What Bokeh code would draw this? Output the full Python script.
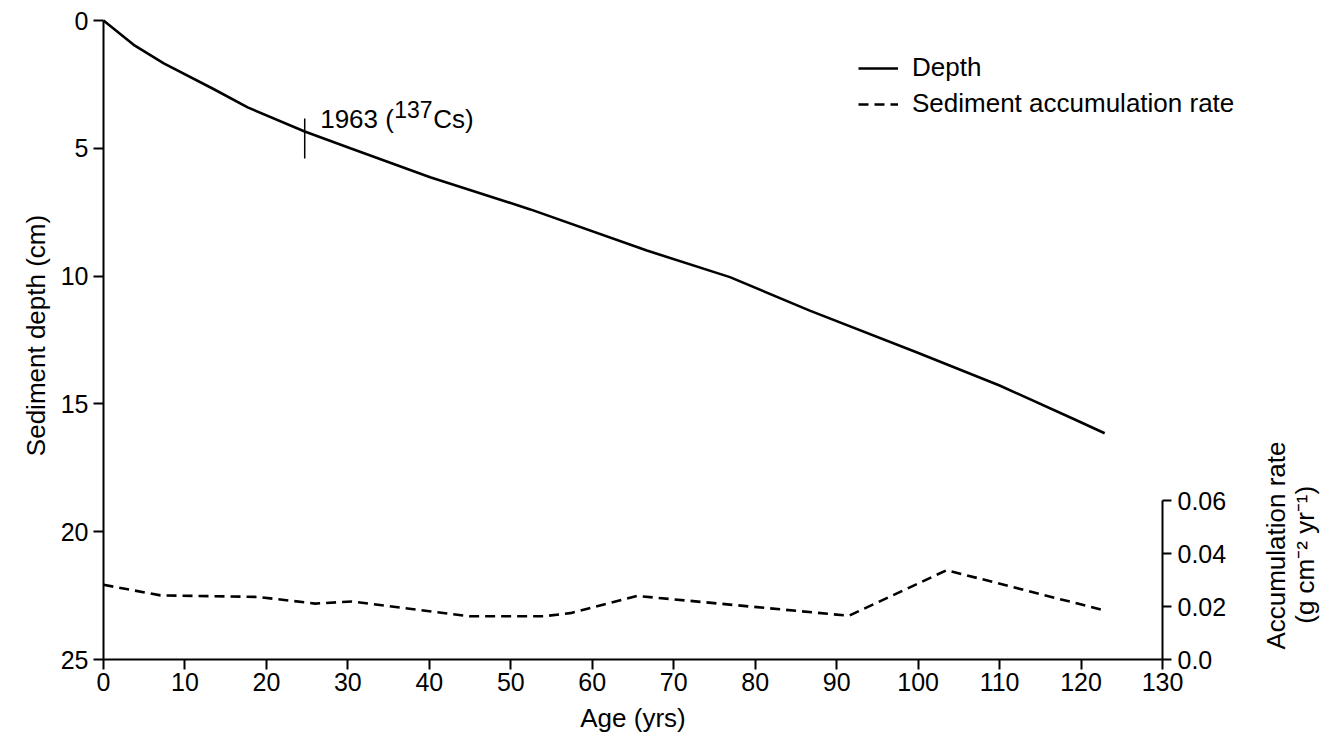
import math
from bokeh.plotting import figure
from bokeh.models import (Range1d, LinearAxis, FixedTicker, Legend, LegendItem, Label)
from bokeh.embed import file_html
from bokeh.resources import INLINE

# ---- data ----
age_depth = [0, 3.7, 7.4, 13.5, 17.7, 24.7, 30.3, 40.1, 52.4, 66.7, 76.9, 86.7, 99.8, 110, 119.3, 122.9]
depth_cm = [0, 0.95, 1.68, 2.68, 3.4, 4.34, 5.0, 6.13, 7.39, 9.0, 10.04, 11.35, 12.98, 14.28, 15.62, 16.15]

age_rate = [0, 7, 19, 26, 30.5, 45, 54, 57.5, 65.5, 91.5, 103.5, 122.5]
acc_rate = [0.0282, 0.0242, 0.0236, 0.0211, 0.0219, 0.0163, 0.0163, 0.0176, 0.0240, 0.0165, 0.0337, 0.0188]

x_ticks = list(range(0, 131, 10))
depth_ticks = [0, 5, 10, 15, 20, 25]
rate_ticks = [0, 0.02, 0.04, 0.06]

cs_age = 24.7          # 1963 137Cs marker
cs_depth_span = (3.83, 5.4)

FONT = "Liberation Sans"
FS = "26px"
TFS = "25px"

# ---- layout (pixels) ----
W, H = 1331, 738
AX_L, AX_R = 103, 1162          # x = 0 and x = 130
AX_T, AX_B = 20, 659            # depth 0 and depth 25
RATE_TOP_PX = 500               # rate 0.06
X_MAX, D_MAX, R_MAX = 130, 25, 0.06

px_x = (AX_R - AX_L) / X_MAX
px_d = (AX_B - AX_T) / D_MAX
px_r = (AX_B - RATE_TOP_PX) / R_MAX

x_rng = Range1d(-AX_L / px_x, X_MAX + (W - AX_R) / px_x)
d_rng = Range1d(D_MAX + (H - AX_B) / px_d, -AX_T / px_d)
r_rng = Range1d(-(H - AX_B) / px_r, AX_B / px_r)

p = figure(width=W, height=H, output_backend="svg", toolbar_location=None,
           x_range=x_rng, y_range=d_rng, x_axis_location=None, y_axis_location=None,
           min_border_left=0, min_border_right=0, min_border_top=0, min_border_bottom=0)
p.outline_line_color = None
p.grid.visible = False
p.background_fill_color = "white"
p.border_fill_color = "white"
p.extra_y_ranges = {"rate": r_rng}

def style_axis(ax, tick_out, standoff):
    ax.axis_line_width = 2
    ax.axis_line_color = "black"
    ax.major_tick_out = tick_out
    ax.major_tick_in = 0
    ax.major_tick_line_width = 2
    ax.major_tick_line_color = "black"
    ax.minor_tick_line_color = None
    ax.major_label_text_font = FONT
    ax.major_label_text_font_size = TFS
    ax.major_label_text_color = "black"
    ax.major_label_standoff = standoff

xa = LinearAxis(fixed_location=D_MAX, bounds=(0, X_MAX), ticker=FixedTicker(ticks=x_ticks))
style_axis(xa, 10, 3)
p.add_layout(xa, "below")

ya = LinearAxis(fixed_location=0, bounds=(0, D_MAX), ticker=FixedTicker(ticks=depth_ticks))
style_axis(ya, 10, 5)
p.add_layout(ya, "left")

ra = LinearAxis(y_range_name="rate", fixed_location=X_MAX, bounds=(0, R_MAX),
                ticker=FixedTicker(ticks=rate_ticks))
style_axis(ra, 9, 6)
ra.major_label_overrides = {0: "0.0", 0.02: "0.02", 0.04: "0.04", 0.06: "0.06"}
p.add_layout(ra, "right")

# ---- data lines ----
r_depth = p.line(age_depth, depth_cm, line_color="black", line_width=2.6)
r_rate = p.line(age_rate, acc_rate, y_range_name="rate", line_color="black",
                line_width=2.6, line_dash="10 6")

# ---- 137Cs marker ----
p.segment(x0=[cs_age], y0=[cs_depth_span[0]], x1=[cs_age], y1=[cs_depth_span[1]],
          line_color="black", line_width=1.5)

lab_kw = dict(text_font=FONT, text_color="black", text_baseline="alphabetic")
p.add_layout(Label(x=26.6, y=3.85, text="1963 (", text_font_size=FS, **lab_kw))
p.add_layout(Label(x=26.6, y=3.85, x_offset=74, y_offset=9, text="137",
                   text_font_size="23px", **lab_kw))
p.add_layout(Label(x=26.6, y=3.85, x_offset=113, text="Cs)", text_font_size=FS, **lab_kw))

# ---- axis titles ----
t_kw = dict(text_font=FONT, text_color="black", text_font_size=FS,
            text_align="center", text_baseline="middle")
p.add_layout(Label(x=X_MAX / 2, y=D_MAX + 58 / px_d, text="Age (yrs)", **t_kw))
p.add_layout(Label(x=-68 / px_x, y=(335 - AX_T) / px_d, angle=math.pi / 2,
                   text="Sediment depth (cm)", **t_kw))
p.add_layout(Label(x=X_MAX + 113 / px_x, y=0.0430, y_range_name="rate", angle=math.pi / 2,
                   text="Accumulation rate", **t_kw))
p.add_layout(Label(x=X_MAX + 142 / px_x, y=0.0395, y_range_name="rate", angle=math.pi / 2,
                   text="(g cm\u207b\u00b2 yr\u207b\u00b9)", **t_kw))

# ---- legend ----
legend = Legend(items=[LegendItem(label="Depth", renderers=[r_depth]),
                       LegendItem(label="Sediment accumulation rate", renderers=[r_rate])],
                location=(858, H - 119), border_line_color=None, background_fill_alpha=0,
                label_text_font=FONT, label_text_font_size=FS, label_text_color="black",
                glyph_width=40, label_standoff=14, spacing=5, padding=0, margin=0)
p.add_layout(legend)

open("out.html", "w").write(file_html(p, INLINE))
